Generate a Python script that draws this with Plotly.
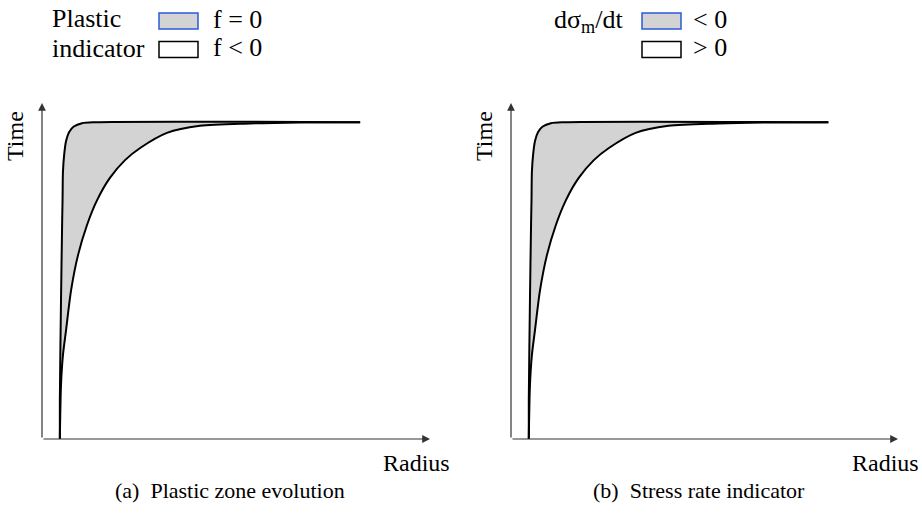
import plotly.graph_objects as go

# boundary curves of the shaded zone, in axis units (radius 0-100, time 0-100)
inner_radius = [4.6, 4.6, 4.9, 5.2, 5.3, 5.4, 5.7, 6.2, 7.0, 8.2, 10.3, 13.7, 82.0]
inner_time = [0, 11.6, 41.4, 65.2, 71.1, 79.5, 84.5, 88.7, 91.4, 93.0, 94.0, 94.3, 94.3]
outer_radius = [4.6, 4.9, 5.4, 6.2, 7.5, 9.3, 11.6, 14.2, 17.5, 21.4, 25.3, 32.2, 40.7, 53.6, 66.5, 82.0]
outer_time = [0, 16.1, 25.0, 32.4, 44.3, 54.8, 63.7, 71.1, 77.7, 83.0, 86.6, 91.1, 93.2, 93.9, 94.2, 94.3]

captions = ["(a)\u00a0 Plastic zone evolution", "(b)\u00a0 Stress rate indicator"]
legend_titles = [["Plastic", "indicator"], ["dσ<sub>m</sub>/dt", ""]]
legend_labels = [["f = 0", "f < 0"], ["< 0", "> 0"]]

W, H = 922, 518
FONT = "Liberation Serif, Times New Roman, serif"
GREY = "#d3d3d3"
AX = "#333333"


def px(x):
    return x / W


def py(y):
    return 1 - y / H


fig = go.Figure()

panels = [("x", "y", 0), ("x2", "y2", 469)]
for xa, ya, dx in panels:
    poly_x = inner_radius + outer_radius[::-1]
    poly_y = inner_time + outer_time[::-1]
    fig.add_trace(go.Scatter(x=poly_x, y=poly_y, fill="toself", fillcolor=GREY,
                             mode="none", line_shape="spline", hoverinfo="skip",
                             xaxis=xa, yaxis=ya, showlegend=False))
    for rx, ty in [(inner_radius, inner_time), (outer_radius, outer_time)]:
        fig.add_trace(go.Scatter(x=rx, y=ty, mode="lines",
                                 line=dict(color="black", width=2, shape="spline", smoothing=0.8),
                                 xaxis=xa, yaxis=ya, showlegend=False, hoverinfo="skip"))

axis_style = dict(range=[0, 100], showgrid=False, zeroline=False, showticklabels=False,
                  ticks="", showline=False, fixedrange=True)
y_dom = [py(439), py(103)]
fig.update_layout(
    width=W, height=H, margin=dict(l=0, r=0, t=0, b=0),
    paper_bgcolor="white", plot_bgcolor="white",
    xaxis=dict(domain=[px(42), px(430)], **axis_style),
    yaxis=dict(domain=y_dom, **axis_style),
    xaxis2=dict(domain=[px(511), px(898)], anchor="y2", **axis_style),
    yaxis2=dict(domain=y_dom, anchor="x2", **axis_style),
)


def label(x, y, text, size, xanchor="center", angle=0):
    return dict(x=px(x), y=py(y), xref="paper", yref="paper", text=text,
                xanchor=xanchor, yanchor="middle", textangle=angle, showarrow=False,
                font=dict(family=FONT, size=size, color="black"))


annotations = []
shapes = []
for i, (xa, ya, dx) in enumerate(panels):
    # axes with arrowheads
    for (x0, y0, x1, y1) in [(0, 0, 100, 0), (0, 0, 0, 100)]:
        annotations.append(dict(x=x1, y=y1, ax=x0, ay=y0, xref=xa, yref=ya,
                                axref=xa, ayref=ya, text="", showarrow=True,
                                arrowhead=2, arrowsize=1.3, arrowwidth=1.2, arrowcolor=AX))
    annotations.append(label(416 + dx, 463, "Radius", 24))
    annotations.append(label(15 + dx, 136, "Time", 24, angle=-90))
    annotations.append(label(230 + dx, 490, captions[i], 22))

# legends
annotations.append(label(50, 18, legend_titles[0][0], 26, xanchor="left"))
annotations.append(label(50, 48, legend_titles[0][1], 26, xanchor="left"))
annotations.append(label(552, 21, legend_titles[1][0], 26, xanchor="left"))
for bx, tx, labels in [(159, 211, legend_labels[0]), (642, 691, legend_labels[1])]:
    for j, (fill, edge) in enumerate([(GREY, "#2a5bd7"), ("white", "black")]):
        y0 = 13 + 28.5 * j
        shapes.append(dict(type="rect", xref="paper", yref="paper",
                           x0=px(bx), x1=px(bx + 39), y0=py(y0 + 16), y1=py(y0),
                           fillcolor=fill, line=dict(color=edge, width=1.5)))
        annotations.append(label(tx, y0 + 6, labels[j], 26, xanchor="left"))

fig.update_layout(annotations=annotations, shapes=shapes)
fig.write_html("out.html", config={"displayModeBar": False},
               post_script="document.body.style.margin='0';")
